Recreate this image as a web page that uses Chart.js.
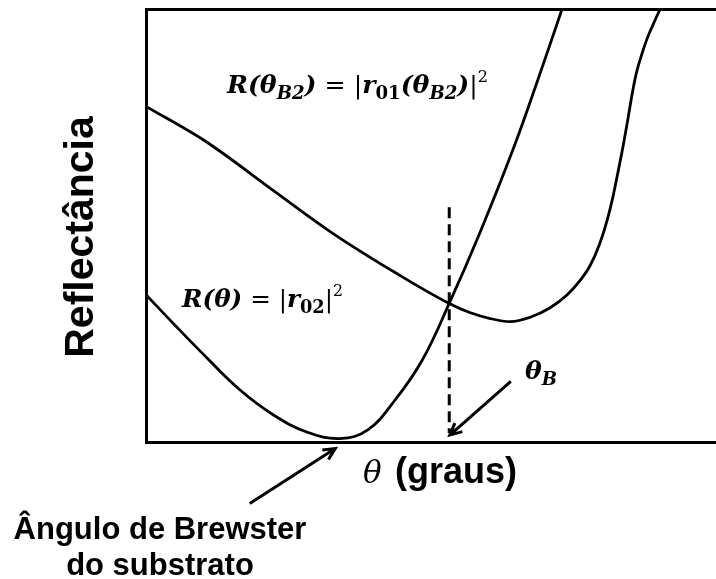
<!DOCTYPE html>
<html>
<head>
<meta charset="utf-8">
<script src="https://cdn.jsdelivr.net/npm/chart.js@4.4.0/dist/chart.umd.min.js"></script>
<style>
body { margin: 0; background: #fff; }
</style>
</head>
<body>
<canvas id="myChart" width="716" height="579"></canvas>
<script>
// R(thetaB2) = |r01(thetaB2)|^2  (upper curve)
var thetaUpper = [0, 10.5, 22.3, 32.3, 44.0, 53.2, 56.8, 60.4, 63.9, 67.4, 70.9, 73.9, 76.1, 77.9, 79.6, 80.9, 81.9, 82.8, 83.7, 84.6, 85.4, 86.1, 87.0, 87.9, 89.0, 90.2];
var reflUpper  = [77.5, 69.4, 58.1, 48.6, 38.9, 32.0, 29.9, 28.5, 27.8, 28.8, 31.0, 34.0, 37.2, 40.7, 45.8, 51.2, 56.5, 62.3, 68.3, 75.0, 81.2, 85.6, 89.6, 93.1, 96.5, 100];

// R(theta) = |r02|^2  (lower curve)
var thetaLower = [0, 4.7, 10.7, 16.5, 22.3, 28.2, 34.0, 38.9, 43.7, 48.5, 53.2, 58.6, 64.4, 68.6, 73.0];
var reflLower  = [34.0, 27.5, 19.4, 12.0, 6.3, 2.3, 0.8, 2.8, 9.7, 19.0, 32.0, 48.4, 67.6, 83.1, 100];

// dashed marker at theta_B
var thetaDash = [53.2, 53.2];
var reflDash  = [54.2, 2.1];

function toPoints(xs, ys) {
    return xs.map(function(x, i){ return {x: x, y: ys[i]}; });
}

function drawArrow(ctx, x1, y1, x2, y2) {
    var ang = Math.atan2(y2 - y1, x2 - x1);
    var head = 13;
    ctx.beginPath();
    ctx.moveTo(x1, y1);
    ctx.lineTo(x2, y2);
    ctx.moveTo(x2 - head * Math.cos(ang - 0.45), y2 - head * Math.sin(ang - 0.45));
    ctx.lineTo(x2, y2);
    ctx.lineTo(x2 - head * Math.cos(ang + 0.45), y2 - head * Math.sin(ang + 0.45));
    ctx.stroke();
}

var serif = '"DejaVu Serif", "Liberation Serif", serif';

function mathFont(kind, size) {
    if (kind === 'bi') return {font: 'italic bold ' + size + 'px ' + serif, dy: 0};
    if (kind === 'n') return {font: size + 'px ' + serif, dy: 0};
    if (kind === 'sub') return {font: 'italic bold ' + Math.round(size * 0.72) + 'px ' + serif, dy: size * 0.24};
    if (kind === 'subb') return {font: 'bold ' + Math.round(size * 0.72) + 'px ' + serif, dy: size * 0.24};
    return {font: Math.round(size * 0.62) + 'px ' + serif, dy: -size * 0.45};
}

// parts: [text, kind]; squeezed / stretched to fit the given width
function drawMath(ctx, x, y, parts, size, width) {
    var total = 0;
    parts.forEach(function(p){
        ctx.font = mathFont(p[1], size).font;
        total += ctx.measureText(p[0]).width;
    });
    ctx.save();
    ctx.translate(x, y);
    ctx.scale(width / total, 1);
    var cx = 0;
    parts.forEach(function(p){
        var f = mathFont(p[1], size);
        ctx.font = f.font;
        ctx.fillText(p[0], cx, f.dy);
        cx += ctx.measureText(p[0]).width;
    });
    ctx.restore();
}

var labelsPlugin = {
    id: 'labelsPlugin',
    afterDraw: function(chart) {
        var ctx = chart.ctx;
        var xs = chart.scales.x, ys = chart.scales.y;
        ctx.save();
        ctx.fillStyle = '#000';
        ctx.strokeStyle = '#000';
        ctx.textBaseline = 'alphabetic';
        ctx.textAlign = 'left';

        drawMath(ctx, 227, 93, [['R(', 'bi'], ['θ', 'bi'], ['B2', 'sub'], [')', 'bi'], [' = ', 'n'], ['|', 'n'],
            ['r', 'bi'], ['01', 'subb'], ['(θ', 'bi'], ['B2', 'sub'], [')', 'bi'], ['|', 'n'], ['2', 'sup']], 25, 261);
        drawMath(ctx, 182, 307, [['R(θ)', 'bi'], [' = ', 'n'], ['|', 'n'], ['r', 'bi'], ['02', 'subb'], ['|', 'n'], ['2', 'sup']], 25, 161);
        drawMath(ctx, 525, 379, [['θ', 'bi'], ['B', 'sub']], 25, 32);

        // axis titles
        ctx.font = 'italic 31px ' + serif;
        ctx.fillText('θ', 363, 483);
        ctx.font = 'bold 36px "Liberation Sans", Arial, sans-serif';
        ctx.fillText('(graus)', 395, 483);

        ctx.save();
        ctx.translate(93, 237);
        ctx.rotate(-Math.PI / 2);
        ctx.textAlign = 'center';
        ctx.font = 'bold 41px "Liberation Sans", Arial, sans-serif';
        ctx.fillText('Reflectância', 0, 0);
        ctx.restore();

        ctx.textAlign = 'center';
        ctx.font = 'bold 31px "Liberation Sans", Arial, sans-serif';
        ctx.fillText('Ângulo de Brewster', 160, 539);
        ctx.fillText('do substrato', 160, 575);

        // arrows
        ctx.lineWidth = 3;
        ctx.lineCap = 'butt';
        drawArrow(ctx, xs.getPixelForValue(64.0), ys.getPixelForValue(14.0), xs.getPixelForValue(53.3), ys.getPixelForValue(1.6));
        drawArrow(ctx, xs.getPixelForValue(18.2), ys.getPixelForValue(-14.2), xs.getPixelForValue(33.2), ys.getPixelForValue(-1.5));
        ctx.restore();
    }
};

var ctx = document.getElementById("myChart").getContext('2d');
var myChart = new Chart(ctx, {
    type: 'line',
    data: {
        datasets: [{
            data: toPoints(thetaUpper, reflUpper),
            borderColor: '#000',
            borderWidth: 2.8,
            pointRadius: 0,
            cubicInterpolationMode: 'monotone'
        }, {
            data: toPoints(thetaLower, reflLower),
            borderColor: '#000',
            borderWidth: 2.8,
            pointRadius: 0,
            tension: 0.4
        }, {
            data: toPoints(thetaDash, reflDash),
            borderColor: '#000',
            borderWidth: 3,
            borderDash: [11, 6],
            pointRadius: 0
        }]
    },
    options: {
        responsive: false,
        animation: false,
        layout: { padding: { left: 146, top: 9, right: 0, bottom: 137 } },
        plugins: { legend: { display: false }, tooltip: { enabled: false } },
        scales: {
            x: {
                type: 'linear', min: 0, max: 100,
                ticks: { display: false },
                grid: { display: false, drawTicks: false },
                border: { display: true, color: '#000', width: 3 }
            },
            xTop: {
                type: 'linear', position: 'top', min: 0, max: 100,
                ticks: { display: false },
                grid: { display: false, drawTicks: false },
                border: { display: true, color: '#000', width: 3 }
            },
            y: {
                type: 'linear', min: 0, max: 100,
                ticks: { display: false },
                grid: { display: false, drawTicks: false },
                border: { display: true, color: '#000', width: 3 }
            }
        }
    },
    plugins: [labelsPlugin]
});
</script>
</body>
</html>
